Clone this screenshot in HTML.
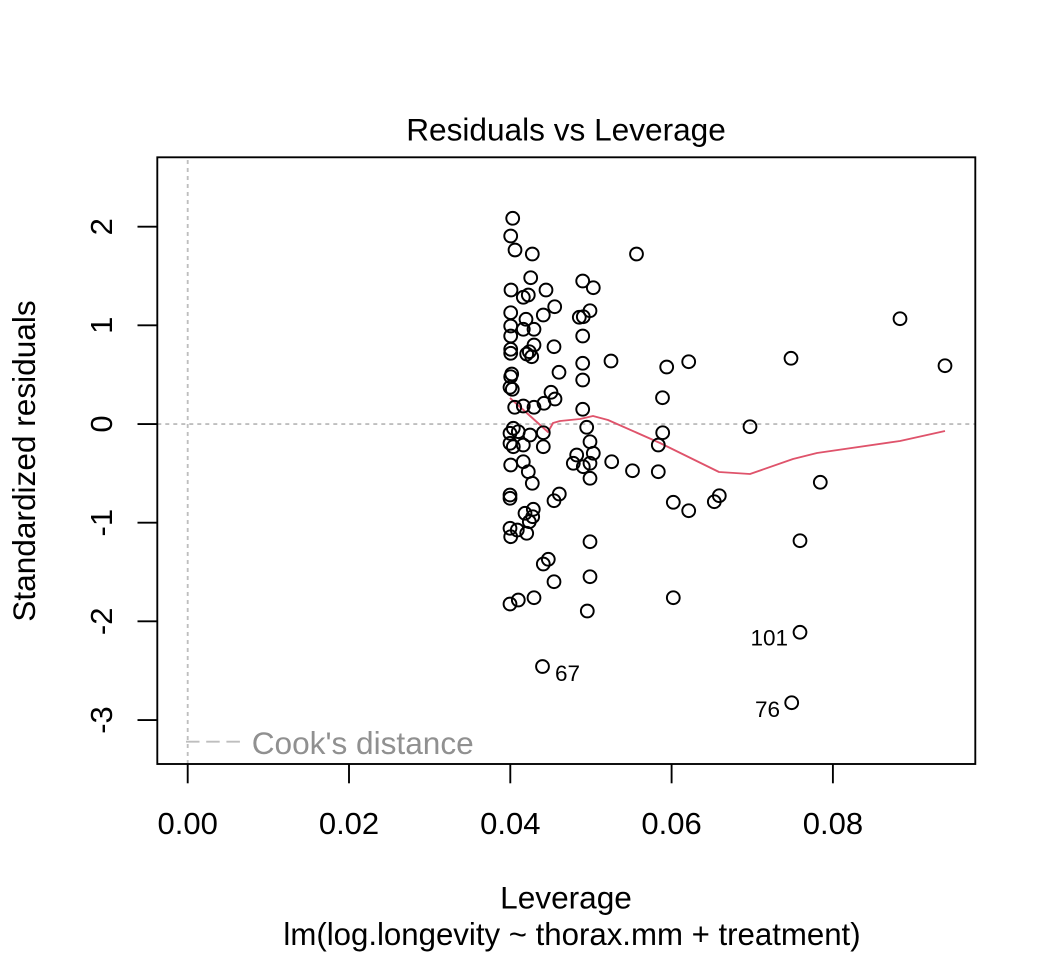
<!DOCTYPE html>
<html>
<head>
<meta charset="utf-8">
<style>
html,body{margin:0;padding:0;background:#fff;}
svg{display:block;}
text{font-family:"Liberation Sans",Arial,Helvetica,sans-serif;}
</style>
</head>
<body>
<svg width="1056" height="960" viewBox="0 0 1056 960" xmlns="http://www.w3.org/2000/svg">
<rect x="0" y="0" width="1056" height="960" fill="#fff"/>
<line x1="157.3" y1="424" x2="975.3" y2="424" stroke="#bebebe" stroke-width="1.875" stroke-dasharray="4 4"/>
<line x1="187.7" y1="160" x2="187.7" y2="764" stroke="#bebebe" stroke-width="1.875" stroke-dasharray="4 4"/>
<polyline fill="none" stroke="#DF536B" stroke-width="1.875" stroke-linejoin="round" points="510,398 548,432 553,423 560,421 580,419 593,416 608,420 660,443 719,472 750,474 793,459 817,453 900,441 945,431"/>
<g fill="none" stroke="#000" stroke-width="1.95">
<circle cx="512.7" cy="218.3" r="6.4"/>
<circle cx="510.7" cy="236" r="6.4"/>
<circle cx="515" cy="250" r="6.4"/>
<circle cx="532.3" cy="254" r="6.4"/>
<circle cx="636.5" cy="254" r="6.4"/>
<circle cx="530.7" cy="277.7" r="6.4"/>
<circle cx="511" cy="290" r="6.4"/>
<circle cx="523.3" cy="297.3" r="6.4"/>
<circle cx="528.3" cy="295" r="6.4"/>
<circle cx="546" cy="290" r="6.4"/>
<circle cx="582.7" cy="281" r="6.4"/>
<circle cx="593.3" cy="287.7" r="6.4"/>
<circle cx="510.7" cy="312.7" r="6.4"/>
<circle cx="526" cy="319.3" r="6.4"/>
<circle cx="543.3" cy="315" r="6.4"/>
<circle cx="554.7" cy="306.7" r="6.4"/>
<circle cx="579.3" cy="317.3" r="6.4"/>
<circle cx="583.3" cy="316.7" r="6.4"/>
<circle cx="590" cy="310.7" r="6.4"/>
<circle cx="510.7" cy="326" r="6.4"/>
<circle cx="523.3" cy="329.3" r="6.4"/>
<circle cx="534" cy="329.3" r="6.4"/>
<circle cx="510.7" cy="336" r="6.4"/>
<circle cx="582.7" cy="336" r="6.4"/>
<circle cx="510.7" cy="349.3" r="6.4"/>
<circle cx="510.7" cy="353.3" r="6.4"/>
<circle cx="526.7" cy="354" r="6.4"/>
<circle cx="529.3" cy="351.7" r="6.4"/>
<circle cx="534" cy="345" r="6.4"/>
<circle cx="531.7" cy="356.7" r="6.4"/>
<circle cx="554" cy="346.7" r="6.4"/>
<circle cx="582.7" cy="363.3" r="6.4"/>
<circle cx="611" cy="361" r="6.4"/>
<circle cx="666.7" cy="367" r="6.4"/>
<circle cx="559" cy="372.3" r="6.4"/>
<circle cx="510.7" cy="376.7" r="6.4"/>
<circle cx="511.7" cy="374" r="6.4"/>
<circle cx="510" cy="387.3" r="6.4"/>
<circle cx="512.3" cy="389.3" r="6.4"/>
<circle cx="582.7" cy="380" r="6.4"/>
<circle cx="662.5" cy="397.7" r="6.4"/>
<circle cx="514.7" cy="407.3" r="6.4"/>
<circle cx="523.3" cy="406" r="6.4"/>
<circle cx="534" cy="407.3" r="6.4"/>
<circle cx="544" cy="403.3" r="6.4"/>
<circle cx="551" cy="392.3" r="6.4"/>
<circle cx="555" cy="399" r="6.4"/>
<circle cx="582.7" cy="409.3" r="6.4"/>
<circle cx="513.3" cy="428.3" r="6.4"/>
<circle cx="510" cy="433.3" r="6.4"/>
<circle cx="518.3" cy="431.7" r="6.4"/>
<circle cx="530" cy="435" r="6.4"/>
<circle cx="543.3" cy="432.7" r="6.4"/>
<circle cx="586.7" cy="427.3" r="6.4"/>
<circle cx="662.7" cy="432.7" r="6.4"/>
<circle cx="510" cy="443.3" r="6.4"/>
<circle cx="513.3" cy="446.7" r="6.4"/>
<circle cx="523.3" cy="445" r="6.4"/>
<circle cx="543.3" cy="446.7" r="6.4"/>
<circle cx="590" cy="441.7" r="6.4"/>
<circle cx="593.3" cy="453.3" r="6.4"/>
<circle cx="576.7" cy="455" r="6.4"/>
<circle cx="658.3" cy="445" r="6.4"/>
<circle cx="510.7" cy="465" r="6.4"/>
<circle cx="523.3" cy="461.7" r="6.4"/>
<circle cx="573.3" cy="463.3" r="6.4"/>
<circle cx="583.3" cy="466.7" r="6.4"/>
<circle cx="590" cy="463.3" r="6.4"/>
<circle cx="611.7" cy="461.7" r="6.4"/>
<circle cx="632.5" cy="470.7" r="6.4"/>
<circle cx="658.3" cy="471.7" r="6.4"/>
<circle cx="528.3" cy="471.7" r="6.4"/>
<circle cx="590" cy="478.3" r="6.4"/>
<circle cx="532.3" cy="483.3" r="6.4"/>
<circle cx="510" cy="495" r="6.4"/>
<circle cx="510" cy="498.3" r="6.4"/>
<circle cx="559.3" cy="494" r="6.4"/>
<circle cx="554" cy="500.7" r="6.4"/>
<circle cx="673.3" cy="502.3" r="6.4"/>
<circle cx="533.3" cy="509.3" r="6.4"/>
<circle cx="525" cy="513.3" r="6.4"/>
<circle cx="532.7" cy="516.7" r="6.4"/>
<circle cx="529.3" cy="521.7" r="6.4"/>
<circle cx="510" cy="528.3" r="6.4"/>
<circle cx="510.7" cy="536.7" r="6.4"/>
<circle cx="517.3" cy="530" r="6.4"/>
<circle cx="526.7" cy="533.3" r="6.4"/>
<circle cx="590" cy="541.7" r="6.4"/>
<circle cx="548.3" cy="559.3" r="6.4"/>
<circle cx="543.3" cy="564" r="6.4"/>
<circle cx="554" cy="581.7" r="6.4"/>
<circle cx="590" cy="576.7" r="6.4"/>
<circle cx="510" cy="604" r="6.4"/>
<circle cx="518.3" cy="600" r="6.4"/>
<circle cx="534" cy="597.7" r="6.4"/>
<circle cx="587.3" cy="611" r="6.4"/>
<circle cx="673.3" cy="597.7" r="6.4"/>
<circle cx="542.5" cy="666.5" r="6.4"/>
<circle cx="688.7" cy="361.7" r="6.4"/>
<circle cx="791" cy="358.3" r="6.4"/>
<circle cx="900" cy="318.7" r="6.4"/>
<circle cx="945" cy="365.7" r="6.4"/>
<circle cx="750" cy="426.7" r="6.4"/>
<circle cx="820.3" cy="482.3" r="6.4"/>
<circle cx="688.7" cy="510.7" r="6.4"/>
<circle cx="714.3" cy="501.7" r="6.4"/>
<circle cx="719.3" cy="495.7" r="6.4"/>
<circle cx="800" cy="540.7" r="6.4"/>
<circle cx="800" cy="632.3" r="6.4"/>
<circle cx="791.7" cy="702.7" r="6.4"/>
</g>
<g font-size="22.5" fill="#000">
<text x="555" y="681">67</text>
<text x="788" y="645.7" text-anchor="end">101</text>
<text x="780" y="717" text-anchor="end">76</text>
</g>
<line x1="186" y1="741.7" x2="240" y2="741.7" stroke="#bebebe" stroke-width="1.875" stroke-dasharray="13.5 6.7"/>
<text x="251.7" y="754" font-size="31.6" fill="#909090">Cook's distance</text>
<rect x="157.3" y="157.3" width="818" height="606.7" fill="none" stroke="#000" stroke-width="1.875"/>
<g stroke="#000" stroke-width="1.875">
<line x1="187.7" y1="764" x2="187.7" y2="783.3"/>
<line x1="349" y1="764" x2="349" y2="783.3"/>
<line x1="510.3" y1="764" x2="510.3" y2="783.3"/>
<line x1="671.6" y1="764" x2="671.6" y2="783.3"/>
<line x1="832.9" y1="764" x2="832.9" y2="783.3"/>
<line x1="137.5" y1="226.7" x2="157.3" y2="226.7"/>
<line x1="137.5" y1="325.3" x2="157.3" y2="325.3"/>
<line x1="137.5" y1="424" x2="157.3" y2="424"/>
<line x1="137.5" y1="522.7" x2="157.3" y2="522.7"/>
<line x1="137.5" y1="621.3" x2="157.3" y2="621.3"/>
<line x1="137.5" y1="720" x2="157.3" y2="720"/>
</g>
<g font-size="31" fill="#000" text-anchor="middle">
<text x="187.7" y="834">0.00</text>
<text x="349" y="834">0.02</text>
<text x="510.3" y="834">0.04</text>
<text x="671.6" y="834">0.06</text>
<text x="832.9" y="834">0.08</text>
<text transform="translate(112,226.7) rotate(-90)">2</text>
<text transform="translate(112,325.3) rotate(-90)">1</text>
<text transform="translate(112,424) rotate(-90)">0</text>
<text transform="translate(112,522.7) rotate(-90)">-1</text>
<text transform="translate(112,621.3) rotate(-90)">-2</text>
<text transform="translate(112,720) rotate(-90)">-3</text>
</g>
<g font-size="31.6" fill="#000" text-anchor="middle">
<text x="566" y="140.7">Residuals vs Leverage</text>
<text x="566" y="908.3">Leverage</text>
<text x="572" y="945" font-size="31.2">lm(log.longevity ~ thorax.mm + treatment)</text>
<text transform="translate(35,461) rotate(-90)">Standardized residuals</text>
</g>
</svg>
</body>
</html>
